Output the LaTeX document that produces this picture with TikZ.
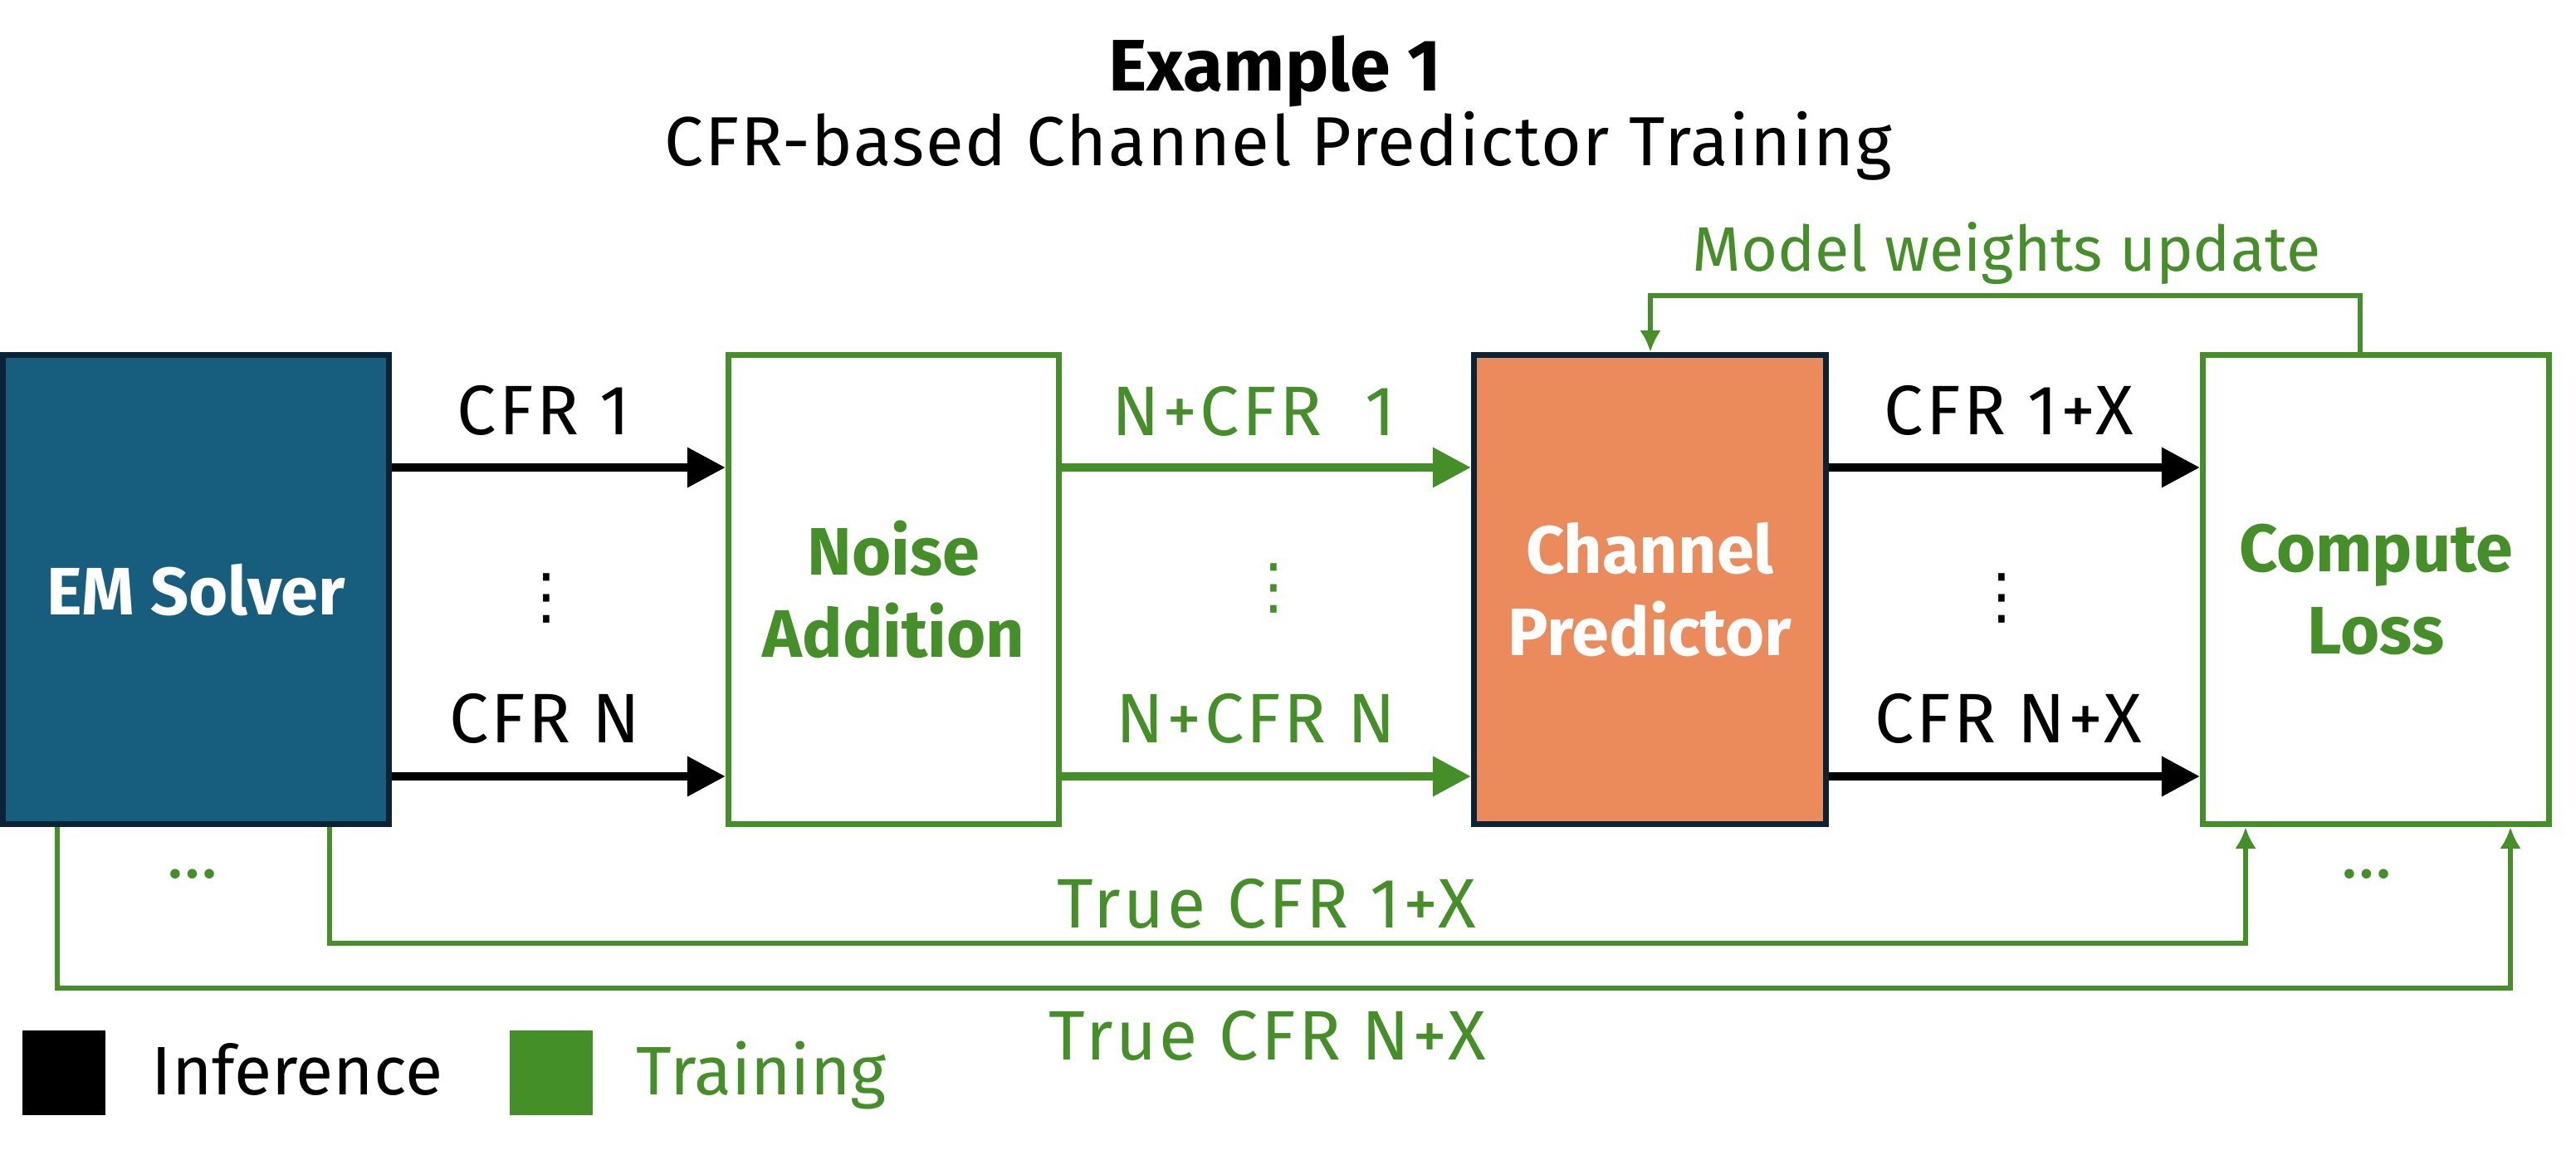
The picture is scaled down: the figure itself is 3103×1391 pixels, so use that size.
\documentclass[tikz,border=0pt]{standalone}
\usepackage{fontspec}
\setmainfont{Fira Sans}
\newfontfamily\dotfont{DejaVu Sans}
\usetikzlibrary{arrows.meta}
\definecolor{nvgreen}{HTML}{458F29}
\definecolor{emblue}{HTML}{175E7E}
\definecolor{darkedge}{HTML}{0B2334}
\definecolor{cporange}{HTML}{EB8B5C}
\newcommand\lblfont{\fontsize{24pt}{28pt}\selectfont\addfontfeature{LetterSpace=4}}
\newcommand\legfont{\fontsize{23.5pt}{28pt}\selectfont}
\newcommand\boxfont{\fontsize{23pt}{28.2pt}\selectfont\bfseries}
\tikzset{
  box/.style={rectangle, line width=0.07cm, inner sep=0pt, minimum height=5.65cm, align=center, font=\boxfont},
  lbl/.style={anchor=base, inner sep=0pt, font=\lblfont},
  leg/.style={anchor=base west, inner sep=0pt, font=\legfont},
  vdot/.style={inner sep=0pt, font=\dotfont\fontsize{21pt}{24pt}\selectfont},
  bigarrow/.style={line width=0.1cm, -{Triangle[length=0.46cm, width=0.46cm]}},
  thinarrow/.style={draw=nvgreen, line width=0.06cm, -{Latex[length=0.26cm, width=0.26cm]}},
  swatch/.style={rectangle, inner sep=0pt, minimum width=1.0cm, minimum height=1.02cm},
}
\begin{document}
\begin{tikzpicture}[x=0.01cm, y=-0.01cm]
\useasboundingbox (0,0) rectangle (3103,1391);

% titles
\node[anchor=base, inner sep=0pt, font=\fontsize{25pt}{30pt}\selectfont\bfseries] (title) at (1536,110) {Example 1};
\node[anchor=base, inner sep=0pt, font=\fontsize{23.8pt}{28pt}\selectfont\addfontfeature{LetterSpace=2}] (subtitle) at (1540,200) {CFR-based Channel Predictor Training};

% boxes
\node[box, draw=darkedge, fill=emblue, text=white, minimum width=4.65cm] (em) at (236,710) {EM Solver};
\node[box, draw=nvgreen, fill=white, text=nvgreen, minimum width=3.98cm] (noise) at (1076.5,710) {Noise\\Addition};
\node[box, draw=darkedge, fill=cporange, text=white, minimum width=4.24cm] (cp) at (1987.5,710) {Channel\\Predictor};
\node[box, draw=nvgreen, fill=white, text=nvgreen, minimum width=4.17cm] (cl) at (2862,710) {Compute\\Loss};

% helper rows
\coordinate (ya) at (0,563);
\coordinate (yb) at (0,935);

% inference / training arrows
\draw[bigarrow, black] (em.east |- ya) -- (noise.west |- ya);
\draw[bigarrow, black] (em.east |- yb) -- (noise.west |- yb);
\draw[bigarrow, nvgreen] (noise.east |- ya) -- (cp.west |- ya);
\draw[bigarrow, nvgreen] (noise.east |- yb) -- (cp.west |- yb);
\draw[bigarrow, black] (cp.east |- ya) -- (cl.west |- ya);
\draw[bigarrow, black] (cp.east |- yb) -- (cl.west |- yb);

% labels
\node[lbl] (l1) at (655,523) {CFR 1};
\node[lbl] (l2) at (656,894) {CFR N};
\node[lbl, text=nvgreen] (l3) at (1510,524) {N+CFR\ \ 1};
\node[lbl, text=nvgreen] (l4) at (1513,894) {N+CFR N};
\node[lbl] (l5) at (2420,523) {CFR 1+X};
\node[lbl] (l6) at (2419,894) {CFR N+X};

\node[vdot] (d1) at (658,721) {⋮};
\node[vdot, text=nvgreen] (d2) at (1534,709) {⋮};
\node[vdot] (d3) at (2411,721) {⋮};

% model weights update loop
\coordinate (mwr) at (2843,356);
\coordinate (mwl) at (1988,356);
\draw[thinarrow] (cl.north -| mwr) -- (mwr) -- (mwl) -- (cp.north -| mwl);
\node[anchor=base, inner sep=0pt, text=nvgreen, font=\fontsize{21.5pt}{26pt}\selectfont] (mw) at (2417,326) {Model weights update};

% true CFR lines
\coordinate (b1) at (397,1136);
\coordinate (e1) at (2705,1136);
\coordinate (b2) at (69,1190);
\coordinate (e2) at (3024,1190);
\draw[thinarrow] (em.south -| b1) -- (b1) -- (e1) -- (cl.south -| e1);
\draw[thinarrow] (em.south -| b2) -- (b2) -- (e2) -- (cl.south -| e2);
\node[lbl, text=nvgreen] (t1) at (1526,1117) {True CFR 1+X};
\node[lbl, text=nvgreen] (t2) at (1527,1276) {True CFR N+X};
\node[anchor=base, inner sep=0pt, font=\legfont, text=nvgreen] (el1) at (232,1057) {…};
\node[anchor=base, inner sep=0pt, font=\legfont, text=nvgreen] (el2) at (2851,1057) {…};

% legend
\node[swatch, fill=black] (sw1) at (77,1292) {};
\node[swatch, fill=nvgreen] (sw2) at (664,1292) {};
\node[leg] (inf) at (182,1318) {Inference};
\node[leg, text=nvgreen] (trn) at (766,1318) {Training};
\end{tikzpicture}
\end{document}
